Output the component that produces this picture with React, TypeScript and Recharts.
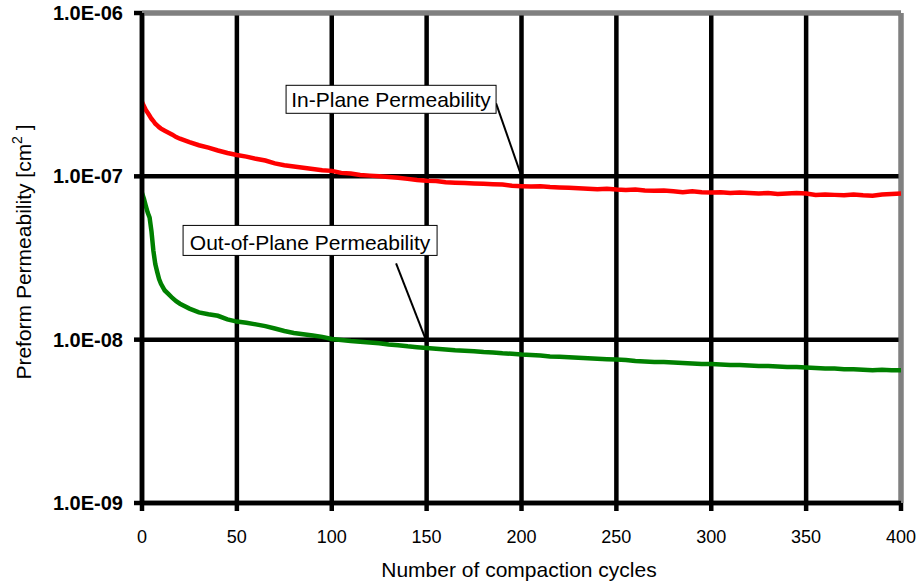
import React from 'react';
import { LineChart, Line, XAxis, YAxis, CartesianGrid, ReferenceLine, ReferenceDot, Label } from 'recharts';

const cycles = [0,1,2,3,4,5,6,7,8,9,10,12,14,16,18,20,25,30,35,40,45,50,55,60,65,70,75,80,85,90,95,100,105,110,115,120,125,130,135,140,145,150,155,160,165,170,175,180,185,190,195,200,205,210,215,220,225,230,235,240,245,250,255,260,265,270,275,280,285,290,295,300,305,310,315,320,325,330,335,340,345,350,355,360,365,370,375,380,385,390,395,400];

const inPlane = [2.85e-7,2.7e-7,2.55e-7,2.45e-7,2.35e-7,2.25e-7,2.18e-7,2.1e-7,2.05e-7,2.0e-7,1.96e-7,1.9e-7,1.85e-7,1.8e-7,1.74e-7,1.7e-7,1.62e-7,1.55e-7,1.5e-7,1.44e-7,1.39e-7,1.35e-7,1.32e-7,1.28e-7,1.25e-7,1.2e-7,1.17e-7,1.15e-7,1.13e-7,1.11e-7,1.09e-7,1.08e-7,1.05e-7,1.04e-7,1.02e-7,1.01e-7,1.0e-7,0.99e-7,0.98e-7,0.965e-7,0.95e-7,0.94e-7,0.935e-7,0.92e-7,0.915e-7,0.91e-7,0.905e-7,0.9e-7,0.895e-7,0.89e-7,0.875e-7,0.87e-7,0.865e-7,0.87e-7,0.86e-7,0.855e-7,0.85e-7,0.845e-7,0.84e-7,0.835e-7,0.84e-7,0.83e-7,0.825e-7,0.83e-7,0.82e-7,0.815e-7,0.82e-7,0.81e-7,0.8e-7,0.81e-7,0.8e-7,0.795e-7,0.8e-7,0.79e-7,0.795e-7,0.79e-7,0.785e-7,0.79e-7,0.78e-7,0.785e-7,0.79e-7,0.785e-7,0.77e-7,0.775e-7,0.77e-7,0.765e-7,0.775e-7,0.765e-7,0.76e-7,0.775e-7,0.78e-7,0.785e-7];

const outOfPlane = [7.9e-8,7.3e-8,6.6e-8,6.0e-8,5.6e-8,4.6e-8,3.5e-8,2.9e-8,2.6e-8,2.35e-8,2.2e-8,2.0e-8,1.9e-8,1.8e-8,1.72e-8,1.66e-8,1.55e-8,1.47e-8,1.43e-8,1.4e-8,1.33e-8,1.29e-8,1.27e-8,1.24e-8,1.21e-8,1.17e-8,1.13e-8,1.1e-8,1.08e-8,1.06e-8,1.04e-8,1.01e-8,0.995e-8,0.98e-8,0.97e-8,0.96e-8,0.95e-8,0.935e-8,0.925e-8,0.91e-8,0.9e-8,0.89e-8,0.88e-8,0.87e-8,0.86e-8,0.855e-8,0.85e-8,0.84e-8,0.835e-8,0.825e-8,0.82e-8,0.81e-8,0.805e-8,0.8e-8,0.79e-8,0.785e-8,0.78e-8,0.775e-8,0.77e-8,0.765e-8,0.76e-8,0.755e-8,0.75e-8,0.74e-8,0.735e-8,0.73e-8,0.73e-8,0.725e-8,0.72e-8,0.715e-8,0.71e-8,0.71e-8,0.705e-8,0.7e-8,0.7e-8,0.695e-8,0.69e-8,0.69e-8,0.685e-8,0.68e-8,0.68e-8,0.675e-8,0.67e-8,0.665e-8,0.665e-8,0.66e-8,0.66e-8,0.655e-8,0.65e-8,0.655e-8,0.65e-8,0.65e-8];

const xTicks = [0,50,100,150,200,250,300,350,400];
const yTicks = [1e-9,1e-8,1e-7,1e-6];
const yTickLabels = ['1.0E-09','1.0E-08','1.0E-07','1.0E-06'];

const data = cycles.map((c, i) => ({ cycle: c, inPlane: inPlane[i], outPlane: outOfPlane[i] }));

const FONT = 'Liberation Sans, Arial, Helvetica, sans-serif';

const inPlaneBox = (props: any) => {
  const { cx, cy } = props;
  return (
    <g>
      <rect x={cx - 210} y={cy - 18} width={210} height={28} fill="#fff" stroke="#000" strokeWidth={1} />
      <text x={cx - 105} y={cy + 4} textAnchor="middle" fontSize={21} fontFamily={FONT} fill="#000">In-Plane Permeability</text>
    </g>
  );
};

const outPlaneBox = (props: any) => {
  const { cx, cy } = props;
  return (
    <g>
      <rect x={cx - 213} y={cy - 38} width={254} height={30} fill="#fff" stroke="#000" strokeWidth={1} />
      <text x={cx - 86} y={cy - 13} textAnchor="middle" fontSize={21} fontFamily={FONT} fill="#000">Out-of-Plane Permeability</text>
    </g>
  );
};

const xTitle = () => (
  <text x={519} y={577} textAnchor="middle" fontSize={21} fontFamily={FONT} fill="#000">Number of compaction cycles</text>
);

const yTitle = () => (
  <text x={31} y={252} transform="rotate(-90, 31, 252)" textAnchor="middle" fontSize={21} fontFamily={FONT} fill="#000">
    Preform Permeability [cm<tspan dy={-9} fontSize={14}>2</tspan><tspan dy={9}> ]</tspan>
  </text>
);

export default function App() {
  return (
    <div style={{ position: 'absolute', left: 0, top: 0, background: '#fff' }}>
      <LineChart width={918} height={581} data={data} margin={{ top: 13, right: 17, bottom: 0, left: 0 }}>
        <CartesianGrid stroke="#000" strokeWidth={4.5} />
        <XAxis
          dataKey="cycle"
          type="number"
          domain={[0, 400]}
          ticks={xTicks}
          height={78}
          axisLine={{ stroke: '#000', strokeWidth: 4.5 }}
          tickLine={{ stroke: '#000', strokeWidth: 4.5 }}
          tickSize={8}
          tickMargin={19}
          tick={{ fill: '#000', fontSize: 18, fontFamily: FONT }}
        >
          <Label content={xTitle} />
        </XAxis>
        <YAxis
          type="number"
          scale="log"
          domain={[1e-9, 1e-6]}
          allowDataOverflow
          ticks={yTicks}
          width={142}
          tickFormatter={(v: number) => yTickLabels[yTicks.findIndex(t => Math.abs(t - v) / t < 1e-6)] ?? ''}
          axisLine={{ stroke: '#000', strokeWidth: 4.5 }}
          tickLine={{ stroke: '#000', strokeWidth: 4.5 }}
          tickSize={8}
          tickMargin={11}
          tick={{ fill: '#000', fontSize: 20, fontWeight: 'bold', fontFamily: FONT }}
        >
          <Label content={yTitle} />
        </YAxis>
        <ReferenceLine y={1e-6} stroke="#808080" strokeWidth={5} />
        <ReferenceLine x={400} stroke="#808080" strokeWidth={5} />
        <Line type="linear" dataKey="inPlane" stroke="#ff0000" strokeWidth={4.5} dot={false} isAnimationActive={false} />
        <Line type="linear" dataKey="outPlane" stroke="#008000" strokeWidth={4.5} dot={false} isAnimationActive={false} />
        <ReferenceLine segment={[{ x: 186.6, y: 2.8e-7 }, { x: 200, y: 1e-7 }]} stroke="#000" strokeWidth={2} ifOverflow="visible" />
        <ReferenceLine segment={[{ x: 133.9, y: 2.93e-8 }, { x: 149.3, y: 1.02e-8 }]} stroke="#000" strokeWidth={2} ifOverflow="visible" />
        <ReferenceDot x={186.6} y={2.8e-7} r={0} shape={inPlaneBox} ifOverflow="visible" />
        <ReferenceDot x={133.9} y={2.93e-8} r={0} shape={outPlaneBox} ifOverflow="visible" />
      </LineChart>
    </div>
  );
}
